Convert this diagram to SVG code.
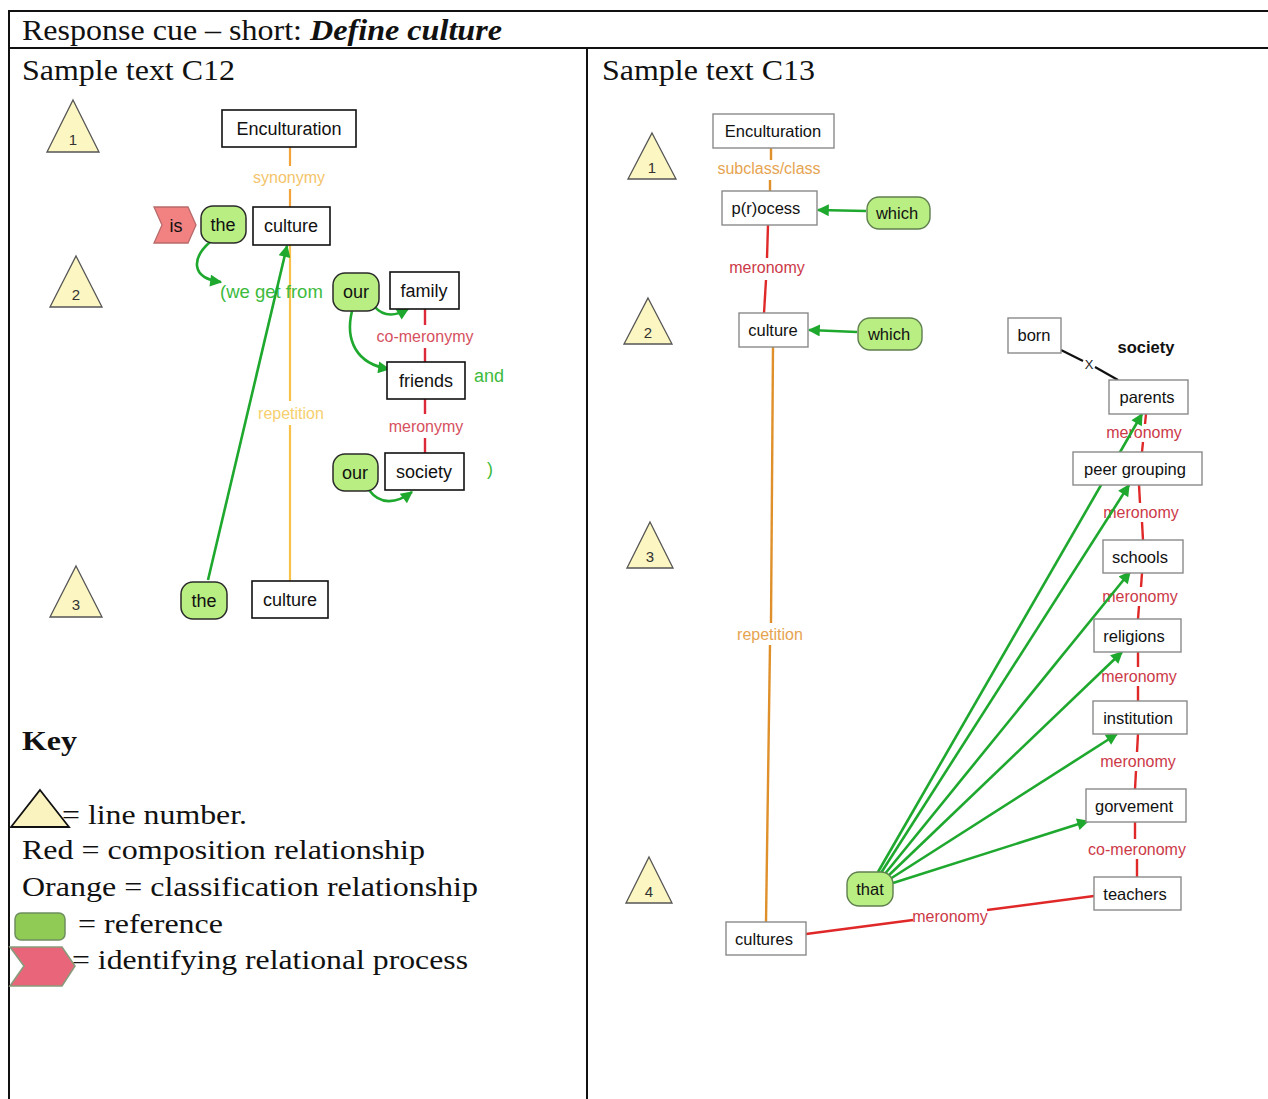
<svg xmlns="http://www.w3.org/2000/svg" width="1268" height="1099" viewBox="0 0 1268 1099">
<defs>
<style>
.frame{stroke:#111;stroke-width:2;fill:none}
.serif{font-family:"Liberation Serif","Times New Roman",serif;fill:#111}
.sans{font-family:"Liberation Sans",Arial,sans-serif}
.lbox{fill:#fff;stroke:#111;stroke-width:1.6}
.rbox{fill:#fff;stroke:#8a8a8a;stroke-width:1.4}
.lref{fill:#b8ee82;stroke:#2a2a2a;stroke-width:1.5}
.rref{fill:#b8ee82;stroke:#5f7f4f;stroke-width:1.4}
.tri{fill:#fbf6c2;stroke:#555;stroke-width:1.3}
.ntxt{font-family:"Liberation Sans",Arial,sans-serif;font-size:18px;fill:#111;text-anchor:middle}
.rtxt{font-family:"Liberation Sans",Arial,sans-serif;font-size:16.5px;fill:#111;text-anchor:middle}
.tnum{font-family:"Liberation Sans",Arial,sans-serif;font-size:15px;fill:#333;text-anchor:middle}
.lab{font-family:"Liberation Sans",Arial,sans-serif;font-size:16px;text-anchor:middle}
.garrow{stroke:#1ea82e;stroke-width:2.6;fill:none;marker-end:url(#ga)}
</style>
<marker id="ga" viewBox="0 0 10 10" refX="9" refY="5" markerWidth="15" markerHeight="12" markerUnits="userSpaceOnUse" orient="auto"><path d="M0,0 L10,5 L0,10 Z" fill="#1ea82e"/></marker>
</defs>

<g id="frame">
<line class="frame" x1="8" y1="11" x2="1268" y2="11"/>
<line class="frame" x1="8" y1="48" x2="1268" y2="48"/>
<line class="frame" x1="9" y1="10" x2="9" y2="1099"/>
<line class="frame" x1="587" y1="48" x2="587" y2="1099"/>
<text class="serif" x="22" y="40" font-size="30" textLength="280" lengthAdjust="spacingAndGlyphs">Response cue – short:</text>
<text class="serif" x="310" y="40" font-size="30" font-weight="bold" font-style="italic" textLength="192" lengthAdjust="spacingAndGlyphs">Define culture</text>
<text class="serif" x="22" y="80" font-size="30" textLength="213" lengthAdjust="spacingAndGlyphs">Sample text C12</text>
<text class="serif" x="602" y="80" font-size="30" textLength="213" lengthAdjust="spacingAndGlyphs">Sample text C13</text>
</g>

<!-- LEFT PANEL -->
<g id="left-connectors">
<line x1="290" y1="147" x2="290" y2="166" stroke="#f2a43a" stroke-width="2.2"/>
<line x1="290" y1="189" x2="290" y2="207" stroke="#f2a43a" stroke-width="2.2"/>
<text class="lab" x="289" y="183" fill="#f3c46a" font-size="17">synonymy</text>
<line x1="290" y1="245" x2="290" y2="401" stroke="#f8c24a" stroke-width="2.2"/>
<line x1="290" y1="425" x2="290" y2="581" stroke="#f8c24a" stroke-width="2.2"/>
<text class="lab" x="291" y="419" fill="#f6d06e" font-size="17">repetition</text>
<line x1="425" y1="309" x2="425" y2="325" stroke="#dd2a3a" stroke-width="2.4"/>
<line x1="425" y1="348" x2="425" y2="362" stroke="#dd2a3a" stroke-width="2.4"/>
<text class="lab" x="425" y="342" fill="#d6505e" font-size="17">co-meronymy</text>
<line x1="425" y1="399" x2="425" y2="414" stroke="#dd2a3a" stroke-width="2.4"/>
<line x1="425" y1="438" x2="425" y2="453" stroke="#dd2a3a" stroke-width="2.4"/>
<text class="lab" x="426" y="432" fill="#d6505e" font-size="17">meronymy</text>
<text x="220" y="298" class="sans" font-size="18.5" fill="#3dbb3d">(we get from</text>
<text x="474" y="382" class="sans" font-size="18" fill="#3dbb3d">and</text>
<text x="487" y="475" class="sans" font-size="18" fill="#3dbb3d">)</text>
<path class="garrow" d="M210,242 C192,258 190,278 221,282"/>
<path class="garrow" d="M374,306 C384,318 396,316 408,309"/>
<path class="garrow" d="M352,311 C345,340 356,364 389,369"/>
<path class="garrow" d="M369,490 C380,505 396,504 412,492"/>
<line class="garrow" x1="208" y1="580" x2="287" y2="246"/>
</g>

<g id="tri-L1"><path class="tri" d="M73,100 L99,152 L47,152 Z"/><text class="tnum" x="73" y="145">1</text></g>
<g id="tri-L2"><path class="tri" d="M76,256 L102,307 L50,307 Z"/><text class="tnum" x="76" y="300">2</text></g>
<g id="tri-L3"><path class="tri" d="M76,566 L102,617 L50,617 Z"/><text class="tnum" x="76" y="610">3</text></g>

<g id="L-enculturation"><rect class="lbox" x="222" y="110" width="134" height="37"/><text class="ntxt" x="289" y="135">Enculturation</text></g>
<g id="L-is"><path d="M154,207 L188,207 L196,225 L188,243 L154,243 L162,225 Z" fill="#f28282" stroke="#b86a6a" stroke-width="1.3"/><text class="ntxt" x="176" y="232" fill="#3a1010">is</text></g>
<g id="L-the1"><rect class="lref" x="201" y="206" width="45" height="37" rx="12"/><text class="ntxt" x="223" y="231">the</text></g>
<g id="L-culture1"><rect class="lbox" x="253" y="207" width="77" height="38"/><text class="ntxt" x="291" y="232">culture</text></g>
<g id="L-our1"><rect class="lref" x="333" y="273" width="46" height="38" rx="12"/><text class="ntxt" x="356" y="298">our</text></g>
<g id="L-family"><rect class="lbox" x="390" y="272" width="69" height="37"/><text class="ntxt" x="424" y="297">family</text></g>
<g id="L-friends"><rect class="lbox" x="387" y="362" width="78" height="37"/><text class="ntxt" x="426" y="387">friends</text></g>
<g id="L-our2"><rect class="lref" x="333" y="454" width="45" height="37" rx="12"/><text class="ntxt" x="355" y="479">our</text></g>
<g id="L-society"><rect class="lbox" x="385" y="453" width="79" height="37"/><text class="ntxt" x="424" y="478">society</text></g>
<g id="L-the2"><rect class="lref" x="181" y="582" width="46" height="37" rx="12"/><text class="ntxt" x="204" y="607">the</text></g>
<g id="L-culture2"><rect class="lbox" x="252" y="581" width="76" height="37"/><text class="ntxt" x="290" y="606">culture</text></g>

<!-- KEY -->
<g id="key">
<text class="serif" x="22" y="750" font-size="28" font-weight="bold" textLength="55" lengthAdjust="spacingAndGlyphs">Key</text>
<path d="M40,790 L69,827 L11,827 Z" fill="#fbf3bf" stroke="#111" stroke-width="1.8"/>
<text class="serif" x="62" y="824" font-size="28" textLength="185" lengthAdjust="spacingAndGlyphs">= line number.</text>
<text class="serif" x="22" y="859" font-size="28" textLength="403" lengthAdjust="spacingAndGlyphs">Red = composition relationship</text>
<text class="serif" x="22" y="896" font-size="28" textLength="456" lengthAdjust="spacingAndGlyphs">Orange = classification relationship</text>
<rect x="15" y="913" width="50" height="27" rx="6" fill="#8fcb55" stroke="#6f8f5f" stroke-width="1.5"/>
<text class="serif" x="78" y="933" font-size="28" textLength="145" lengthAdjust="spacingAndGlyphs">= reference</text>
<path d="M10,947 L62,947 L75,966 L62,986 L10,986 L24,966 Z" fill="#e9667a" stroke="#8a9a7a" stroke-width="1.6"/>
<text class="serif" x="72" y="969" font-size="28" textLength="396" lengthAdjust="spacingAndGlyphs">= identifying relational process</text>
</g>

<!-- RIGHT PANEL -->
<g id="right-connectors">
<line x1="771" y1="148" x2="771" y2="160" stroke="#e0902a" stroke-width="2.4"/>
<line x1="770" y1="180" x2="770" y2="191" stroke="#e0902a" stroke-width="2.4"/>
<text class="lab" x="769" y="174" fill="#e6a450">subclass/class</text>
<line x1="768" y1="225" x2="767" y2="258" stroke="#e02828" stroke-width="2.4"/>
<line x1="766" y1="280" x2="764" y2="313" stroke="#e02828" stroke-width="2.4"/>
<text class="lab" x="767" y="273" fill="#cc3a48">meronomy</text>
<line x1="773" y1="347" x2="771" y2="623" stroke="#e0902a" stroke-width="2.4"/>
<line x1="770" y1="645" x2="766" y2="922" stroke="#e0902a" stroke-width="2.4"/>
<text class="lab" x="770" y="640" fill="#e6a450">repetition</text>
<line x1="806" y1="934" x2="913" y2="920" stroke="#e02828" stroke-width="2.4"/>
<line x1="987" y1="910" x2="1094" y2="896" stroke="#e02828" stroke-width="2.4"/>
<text class="lab" x="950" y="922" fill="#cc3a48">meronomy</text>
<line x1="1146" y1="414" x2="1145" y2="424" stroke="#e02828" stroke-width="2.4"/>
<line x1="1143" y1="442" x2="1142" y2="452" stroke="#e02828" stroke-width="2.4"/>
<text class="lab" x="1144" y="438" fill="#cc3a48">meronomy</text>
<line x1="1139" y1="485" x2="1140" y2="503" stroke="#e02828" stroke-width="2.4"/>
<line x1="1142" y1="522" x2="1143" y2="540" stroke="#e02828" stroke-width="2.4"/>
<text class="lab" x="1141" y="518" fill="#cc3a48">meronomy</text>
<line x1="1142" y1="573" x2="1141" y2="587" stroke="#e02828" stroke-width="2.4"/>
<line x1="1139" y1="606" x2="1138" y2="619" stroke="#e02828" stroke-width="2.4"/>
<text class="lab" x="1140" y="602" fill="#cc3a48">meronomy</text>
<line x1="1138" y1="652" x2="1138" y2="667" stroke="#e02828" stroke-width="2.4"/>
<line x1="1138" y1="686" x2="1138" y2="701" stroke="#e02828" stroke-width="2.4"/>
<text class="lab" x="1139" y="682" fill="#cc3a48">meronomy</text>
<line x1="1138" y1="734" x2="1137" y2="752" stroke="#e02828" stroke-width="2.4"/>
<line x1="1136" y1="771" x2="1135" y2="789" stroke="#e02828" stroke-width="2.4"/>
<text class="lab" x="1138" y="767" fill="#cc3a48">meronomy</text>
<line x1="1135" y1="822" x2="1135" y2="839" stroke="#e02828" stroke-width="2.4"/>
<line x1="1137" y1="859" x2="1137" y2="877" stroke="#e02828" stroke-width="2.4"/>
<text class="lab" x="1137" y="855" fill="#cc3a48">co-meronomy</text>
<line x1="1061" y1="350" x2="1083" y2="361" stroke="#111" stroke-width="2.2"/>
<line x1="1095" y1="367" x2="1118" y2="380" stroke="#111" stroke-width="2.2"/>
<text x="1089" y="369" class="sans" font-size="13" fill="#222" text-anchor="middle">X</text>
<line class="garrow" x1="866" y1="211" x2="818" y2="210"/>
<line class="garrow" x1="857" y1="332" x2="809" y2="330"/>
<line class="garrow" x1="878" y1="872" x2="1142" y2="414"/>
<line class="garrow" x1="881" y1="873" x2="1129" y2="485"/>
<line class="garrow" x1="884" y1="875" x2="1130" y2="572"/>
<line class="garrow" x1="887" y1="877" x2="1122" y2="652"/>
<line class="garrow" x1="890" y1="879" x2="1117" y2="734"/>
<line class="garrow" x1="893" y1="883" x2="1088" y2="821"/>
</g>

<g id="tri-R1"><path class="tri" d="M652,133 L676,179 L628,179 Z"/><text class="tnum" x="652" y="173">1</text></g>
<g id="tri-R2"><path class="tri" d="M648,298 L672,344 L624,344 Z"/><text class="tnum" x="648" y="338">2</text></g>
<g id="tri-R3"><path class="tri" d="M650,522 L673,568 L627,568 Z"/><text class="tnum" x="650" y="562">3</text></g>
<g id="tri-R4"><path class="tri" d="M649,857 L672,903 L626,903 Z"/><text class="tnum" x="649" y="897">4</text></g>

<g id="R-enculturation"><rect class="rbox" x="713" y="114" width="121" height="34"/><text class="rtxt" x="773" y="137">Enculturation</text></g>
<g id="R-process"><rect class="rbox" x="722" y="191" width="95" height="34"/><text class="rtxt" x="766" y="214">p(r)ocess</text></g>
<g id="R-which1"><rect class="rref" x="867" y="197" width="63" height="32" rx="12"/><text class="rtxt" x="897" y="219">which</text></g>
<g id="R-culture"><rect class="rbox" x="739" y="313" width="69" height="34"/><text class="rtxt" x="773" y="336">culture</text></g>
<g id="R-which2"><rect class="rref" x="858" y="318" width="64" height="32" rx="12"/><text class="rtxt" x="889" y="340">which</text></g>
<g id="R-born"><rect class="rbox" x="1008" y="318" width="53" height="35"/><text class="rtxt" x="1034" y="341">born</text></g>
<g id="R-society"><text class="rtxt" x="1146" y="353" font-weight="bold">society</text></g>
<g id="R-parents"><rect class="rbox" x="1109" y="380" width="79" height="34"/><text class="rtxt" x="1147" y="403">parents</text></g>
<g id="R-peer"><rect class="rbox" x="1073" y="452" width="129" height="33"/><text class="rtxt" x="1135" y="475">peer grouping</text></g>
<g id="R-schools"><rect class="rbox" x="1103" y="540" width="80" height="33"/><text class="rtxt" x="1140" y="563">schools</text></g>
<g id="R-religions"><rect class="rbox" x="1094" y="619" width="87" height="33"/><text class="rtxt" x="1134" y="642">religions</text></g>
<g id="R-institution"><rect class="rbox" x="1093" y="701" width="94" height="33"/><text class="rtxt" x="1138" y="724">institution</text></g>
<g id="R-gorvement"><rect class="rbox" x="1086" y="789" width="100" height="33"/><text class="rtxt" x="1134" y="812">gorvement</text></g>
<g id="R-teachers"><rect class="rbox" x="1094" y="877" width="87" height="33"/><text class="rtxt" x="1135" y="900">teachers</text></g>
<g id="R-that"><rect class="rref" x="847" y="872" width="46" height="34" rx="12"/><text class="rtxt" x="870" y="895">that</text></g>
<g id="R-cultures"><rect class="rbox" x="726" y="922" width="80" height="33"/><text class="rtxt" x="764" y="945">cultures</text></g>
</svg>
